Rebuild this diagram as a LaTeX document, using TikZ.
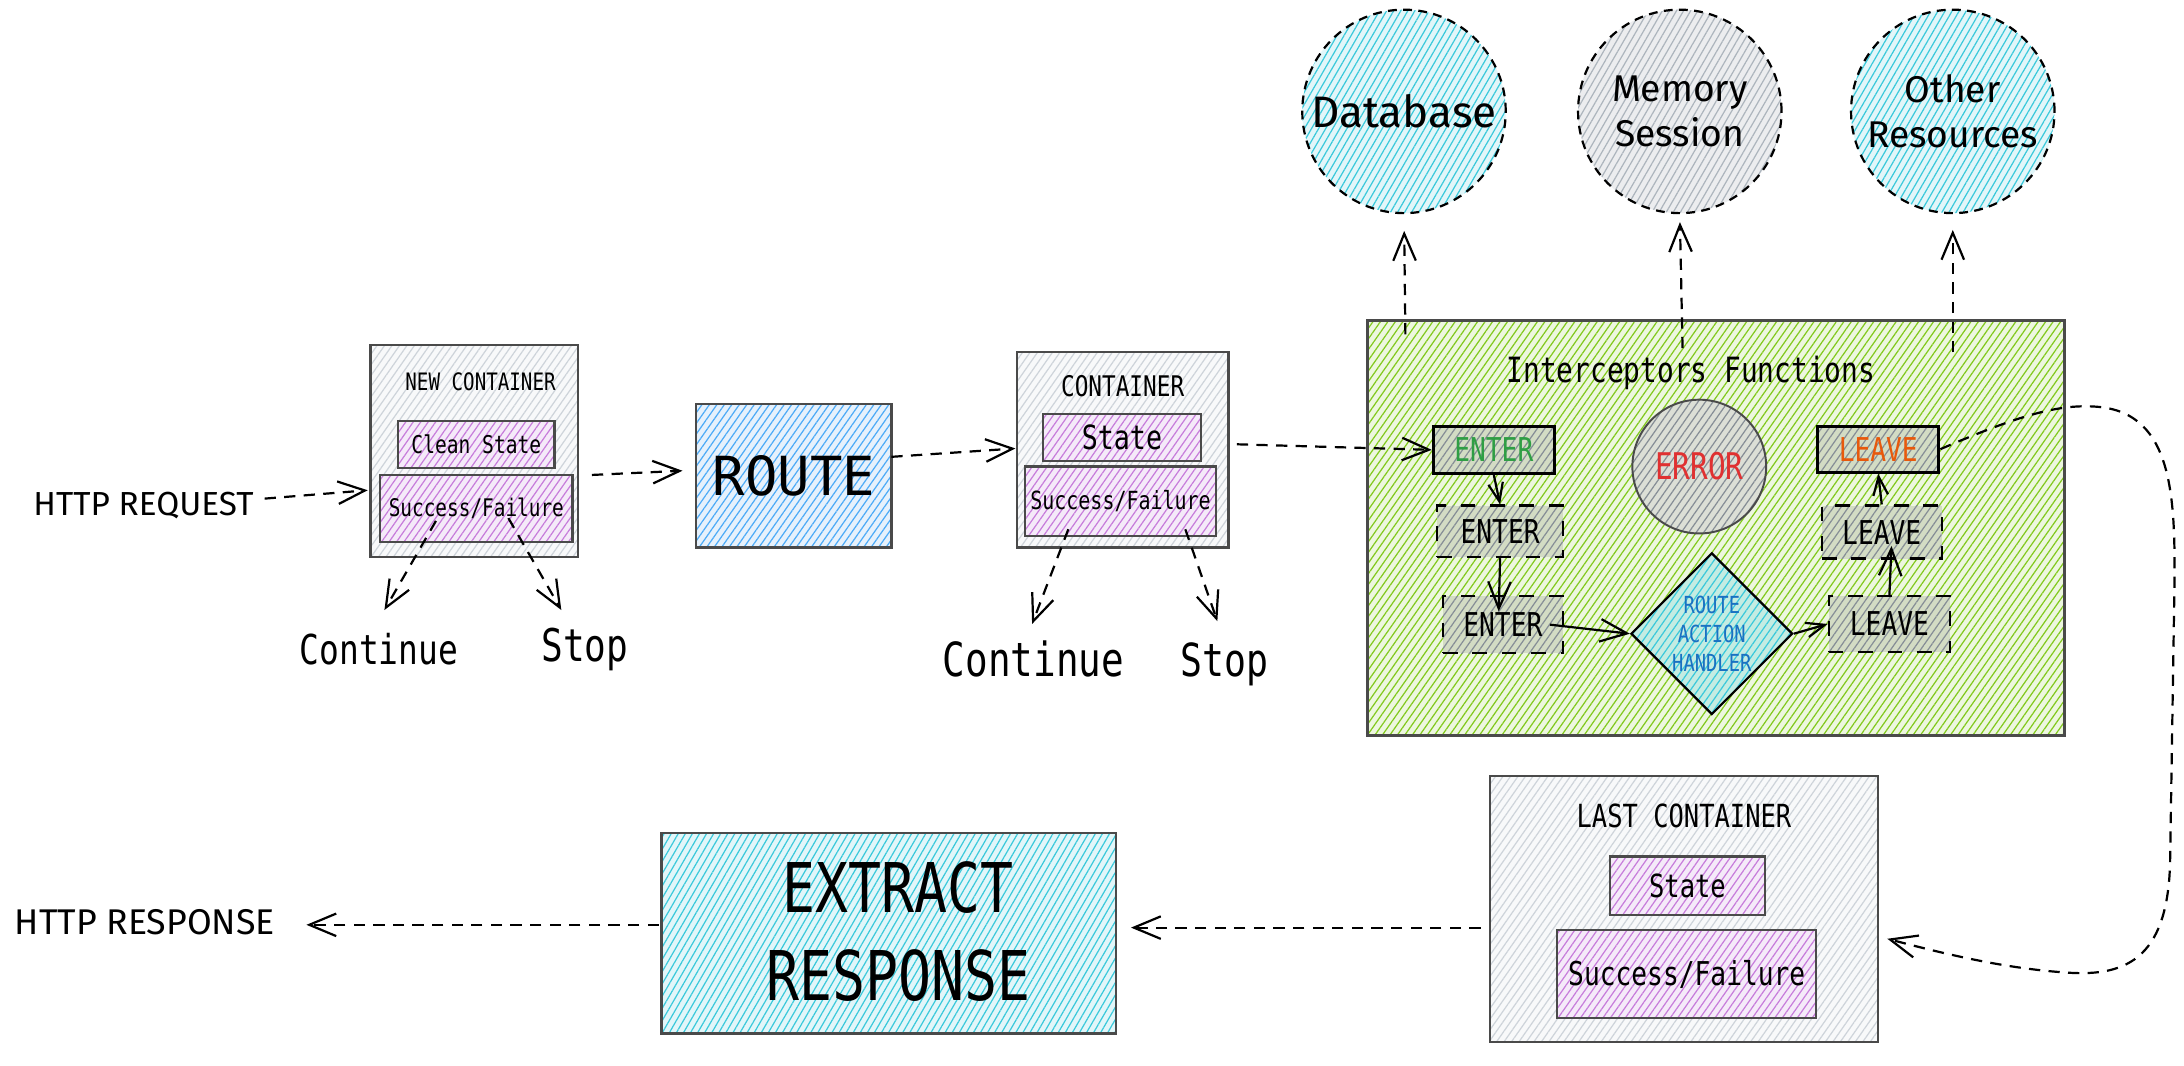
\documentclass[tikz,border=0pt]{standalone}
\usepackage{fontspec}
\usetikzlibrary{arrows.meta,patterns.meta,shapes.geometric}
\newfontfamily\codefont[FakeStretch=0.8]{DejaVu Sans Mono}
\newfontfamily\widecode{DejaVu Sans Mono}
\newfontfamily\handfont{Fira Sans}
\definecolor{greyL}{HTML}{CED4DA}
\definecolor{greyF}{HTML}{F8F9FA}
\definecolor{purpL}{HTML}{C77DDB}
\definecolor{purpF}{HTML}{F5EAF9}
\definecolor{blueL}{HTML}{4DABF7}
\definecolor{blueF}{HTML}{E6F1FC}
\definecolor{cyanL}{HTML}{3BC9DB}
\definecolor{cyanF}{HTML}{E2F6F9}
\definecolor{memL}{HTML}{ADB5BD}
\definecolor{memF}{HTML}{ECEDEF}
\definecolor{grnL}{HTML}{82C91E}
\definecolor{grnF}{HTML}{EDF7DF}
\definecolor{dgL}{HTML}{868E96}
\definecolor{dgF}{HTML}{D3DCC4}
\definecolor{errF}{HTML}{DCDFD6}
\definecolor{diaF}{HTML}{C4ECE2}
\definecolor{txtGreen}{HTML}{2F9E44}
\definecolor{txtOrange}{HTML}{E8590C}
\definecolor{txtRed}{HTML}{E03131}
\definecolor{txtBlue}{HTML}{1971C2}
\definecolor{edge}{HTML}{4A4A4A}
\begin{document}
\begin{tikzpicture}[x=0.01cm,y=-0.01cm,
  hatch/.style n args={3}{preaction={fill=#1},preaction={pattern color=#2,pattern={Lines[angle=#3,distance=1.25pt,line width=0.25pt]}}},
  cbox/.style={rectangle,draw=edge,line width=0.45pt,inner sep=0pt},
  lbl/.style={inner sep=0pt},
  dsh/.style={dash pattern=on 2.3pt off 1.7pt},
  conn/.style={line width=0.45pt,-{Straight Barb[length=5.5pt,width=4.6pt]}},
  sconn/.style={line width=0.45pt,-{Straight Barb[length=3.8pt,width=3pt]}},
  res/.style={circle,draw=black,line width=0.45pt,dash pattern=on 1.8pt off 1.3pt,minimum size=1.46cm,inner sep=0pt,align=center},
  ibox/.style={rectangle,draw=black,line width=0.45pt,inner sep=0pt,hatch={dgF}{dgL}{55},font=\codefont\fontsize{6.7pt}{7pt}\selectfont},
]
\useasboundingbox (0,0) rectangle (1568,765);
\fill[white] (0,0) rectangle (1568,765);

% ---------- left: request ----------
\node[lbl,font=\handfont\fontsize{6.8pt}{7pt}\selectfont] (req) at (103,363) {HTTP REQUEST};
\coordinate (reqs) at (190,358);
\coordinate (newcin) at (264,352);

\node[cbox,hatch={greyF}{greyL}{55},minimum width=1.49cm,minimum height=1.52cm] (newc) at (340.5,324) {};
\node[lbl,font=\codefont\fontsize{4.9pt}{6pt}\selectfont] (newct) at (345,274) {NEW CONTAINER};
\node[cbox,hatch={purpF}{purpL}{55},minimum width=1.12cm,minimum height=0.34cm,font=\codefont\fontsize{5pt}{6pt}\selectfont] (clean) at (342,319) {Clean State};
\node[cbox,hatch={purpF}{purpL}{55},minimum width=1.38cm,minimum height=0.48cm,font=\codefont\fontsize{4.95pt}{6pt}\selectfont] (sf1) at (342,365) {Success/Failure};
\node[lbl,font=\codefont\fontsize{8.4pt}{9pt}\selectfont] (cont1) at (272,466) {Continue};
\node[lbl,font=\codefont\fontsize{9.2pt}{10pt}\selectfont] (stop1) at (420,466) {Stop};
\coordinate (c1a) at (313,374); \coordinate (c1b) at (276,438);
\coordinate (s1a) at (365,372); \coordinate (s1b) at (403,438);
\coordinate (nce) at (425,341);
\coordinate (routein) at (490,338);

% ---------- route ----------
\node[cbox,hatch={blueF}{blueL}{55},minimum width=1.40cm,minimum height=1.03cm,font=\widecode\fontsize{11pt}{12pt}\selectfont] (route) at (570,341.5) {ROUTE};
\coordinate (routeout) at (640,328);
\coordinate (contin) at (729,322);

% ---------- container ----------
\node[cbox,hatch={greyF}{greyL}{55},minimum width=1.52cm,minimum height=1.40cm] (cont) at (806,323) {};
\node[lbl,font=\codefont\fontsize{5.8pt}{6pt}\selectfont] (contt) at (806,277) {CONTAINER};
\node[cbox,hatch={purpF}{purpL}{55},minimum width=1.13cm,minimum height=0.34cm,font=\codefont\fontsize{6.8pt}{7pt}\selectfont] (state2) at (805.5,314) {State};
\node[cbox,hatch={purpF}{purpL}{55},minimum width=1.37cm,minimum height=0.50cm,font=\codefont\fontsize{5.1pt}{6pt}\selectfont] (sf2) at (804.5,360) {Success/Failure};
\node[lbl,font=\codefont\fontsize{9.6pt}{10pt}\selectfont] (cont2) at (742,473) {Continue};
\node[lbl,font=\codefont\fontsize{9.3pt}{10pt}\selectfont] (stop2) at (879,477) {Stop};
\coordinate (c2a) at (767,380); \coordinate (c2b) at (741,448);
\coordinate (s2a) at (851,380); \coordinate (s2b) at (874,446);
\coordinate (contout) at (888,319);

% ---------- interceptors ----------
\node[rectangle,draw=edge,line width=0.55pt,hatch={grnF}{grnL}{55},minimum width=5.00cm,minimum height=2.98cm] (inter) at (1232,379) {};
\node[lbl,font=\codefont\fontsize{7.1pt}{8pt}\selectfont] (intert) at (1214,268) {Interceptors Functions};
\node[ibox,line width=0.6pt,minimum width=0.87cm,minimum height=0.34cm,text=txtGreen] (en1) at (1072.5,323) {ENTER};
\node[ibox,dashed,minimum width=0.90cm,minimum height=0.37cm] (en2) at (1077,381.5) {ENTER};
\node[ibox,dashed,minimum width=0.86cm,minimum height=0.41cm] (en3) at (1079,448.5) {ENTER};
\node[circle,draw=edge,line width=0.4pt,hatch={errF}{dgL}{55},minimum size=0.96cm,inner sep=0pt,text=txtRed,font=\codefont\fontsize{7.5pt}{8pt}\selectfont] (err) at (1220,335) {ERROR};
\node[diamond,aspect=1,draw=black,line width=0.45pt,hatch={diaF}{cyanL}{55},minimum width=1.16cm,minimum height=1.16cm,inner sep=0pt,align=center,text=txtBlue,font=\codefont\fontsize{4.8pt}{6pt}\selectfont] (rah) at (1229,455) {ROUTE\\ACTION\\HANDLER};
\node[ibox,line width=0.6pt,minimum width=0.87cm,minimum height=0.33cm,text=txtOrange] (lv1) at (1348.5,322.5) {LEAVE};
\node[ibox,dashed,minimum width=0.86cm,minimum height=0.38cm] (lv2) at (1351,382) {LEAVE};
\node[ibox,dashed,minimum width=0.87cm,minimum height=0.40cm] (lv3) at (1356.5,448) {LEAVE};
\coordinate (en3in) at (1076,439);
\coordinate (lv2in) at (1358,392);

% ---------- resources ----------
\node[res,hatch={cyanF}{cyanL}{60},font=\handfont\fontsize{9pt}{9.2pt}\selectfont] (db) at (1008,80) {Database};
\node[res,hatch={memF}{memL}{60},font=\handfont\fontsize{7.6pt}{9.2pt}\selectfont] (mem) at (1206,80) {Memory\\Session};
\node[res,hatch={cyanF}{cyanL}{60},font=\handfont\fontsize{7.6pt}{9.2pt}\selectfont] (oth) at (1402,80) {Other\\Resources};
\coordinate (dbs) at (1009,240);
\coordinate (mems) at (1208,250);
\coordinate (oths) at (1402,253);

% ---------- last container ----------
\node[cbox,hatch={greyF}{greyL}{55},minimum width=2.78cm,minimum height=1.91cm] (last) at (1209,652.5) {};
\node[lbl,font=\codefont\fontsize{6.5pt}{7pt}\selectfont] (lastt) at (1209,586) {LAST CONTAINER};
\node[cbox,hatch={purpF}{purpL}{55},minimum width=1.11cm,minimum height=0.42cm,font=\codefont\fontsize{6.5pt}{7pt}\selectfont] (state3) at (1211.5,636) {State};
\node[cbox,hatch={purpF}{purpL}{55},minimum width=1.86cm,minimum height=0.63cm,font=\codefont\fontsize{6.7pt}{7pt}\selectfont] (sf3) at (1211,699.5) {Success/Failure};
\coordinate (lastin) at (1355,674);
\coordinate (lastout) at (1063,666);

% ---------- extract ----------
\node[cbox,hatch={cyanF}{cyanL}{60},minimum width=3.26cm,minimum height=1.44cm] (ext) at (638,670) {};
\node[lbl,align=center,font=\codefont\fontsize{14pt}{17.9pt}\selectfont] (extt) at (645,669) {EXTRACT\\RESPONSE};
\node[lbl,font=\handfont\fontsize{7.3pt}{8pt}\selectfont] (resp) at (104,662) {HTTP RESPONSE};
\coordinate (extin) at (812,666);
\coordinate (extout) at (473,664);
\coordinate (respin) at (220,664);

% ---------- connectors ----------
\draw[dsh,conn] (reqs) -- (newcin);
\draw[dsh,conn] (nce) -- (routein);
\draw[dsh,conn] (routeout) -- (contin);
\draw[dsh,conn] (contout) -- (en1.west);
\draw[dsh,conn] (c1a) -- (c1b);
\draw[dsh,conn] (s1a) -- (s1b);
\draw[dsh,conn] (c2a) -- (c2b);
\draw[dsh,conn] (s2a) -- (s2b);

\draw[sconn] (en1.south) -- (en2.north);
\draw[conn] (en2.south) -- (en3in);
\draw[conn] ([xshift=-0.1cm]en3.east) -- (rah.west);
\draw[sconn] (rah.east) -- (lv3.west);
\draw[conn] (lv3.north) -- (lv2in);
\draw[sconn] (lv2.north) -- (lv1.south);

\draw[dsh,conn,shorten >=3.4pt] (dbs) -- (db.south);
\draw[dsh,conn,shorten >=1.6pt] (mems) -- (mem.south);
\draw[dsh,conn,shorten >=3.2pt] (oths) -- (oth.south);

\draw[dsh,conn] (lv1.east) .. controls (1450,298) and (1478,290) .. (1505,292)
  .. controls (1562,296) and (1562,360) .. (1561,430) -- (1558,620)
  .. controls (1556,690) and (1525,702) .. (1480,698)
  .. controls (1440,695) and (1400,686) .. (lastin);

\draw[dsh,conn] (lastout) -- (extin);
\draw[dsh,conn] (extout) -- (respin);
\end{tikzpicture}
\end{document}
